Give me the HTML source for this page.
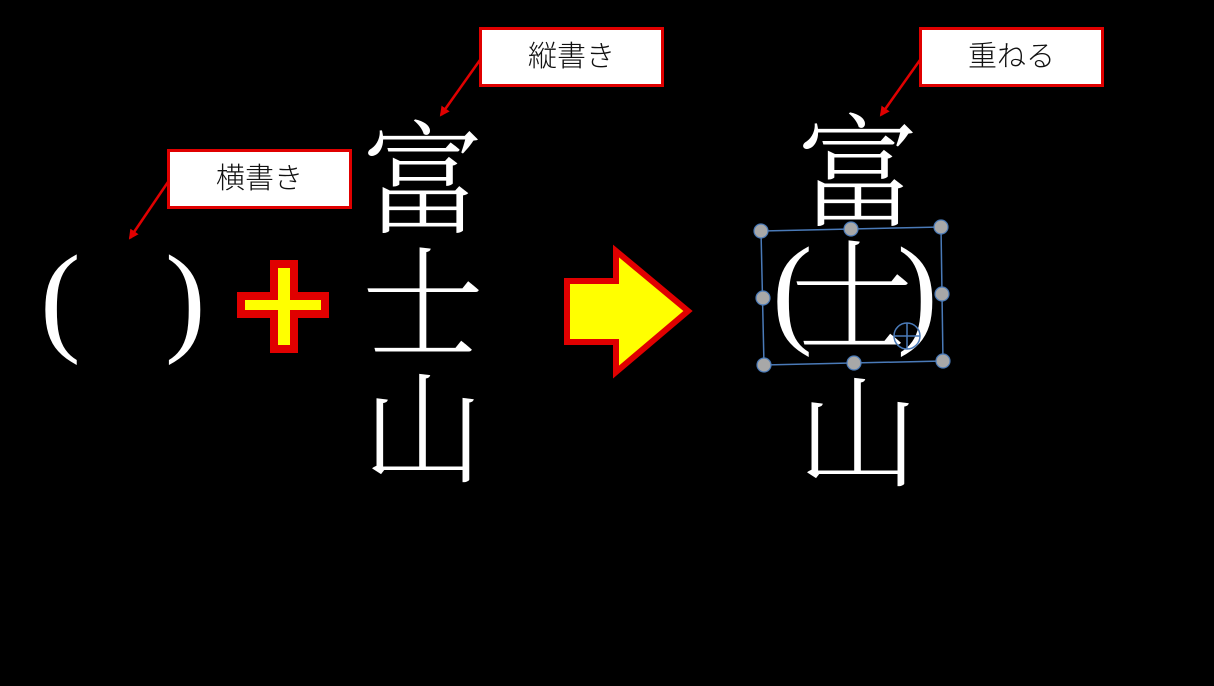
<!DOCTYPE html>
<html><head><meta charset="utf-8"><style>
html,body{margin:0;padding:0;background:#000;}
body{width:1214px;height:686px;position:relative;overflow:hidden;}
.k{position:absolute;color:#fff;font-family:"Noto Serif CJK SC","Noto Serif CJK JP",serif;font-weight:300;font-size:122px;line-height:122px;width:124px;text-align:center;}
.p{position:absolute;color:#fff;font-family:"Liberation Serif",serif;font-size:122px;line-height:122px;}
.lb{position:absolute;background:#fff;border:3px solid #e00000;box-sizing:border-box;width:185px;height:60px;font-family:"Liberation Sans","Noto Sans CJK JP",sans-serif;font-size:29px;line-height:54px;text-align:center;color:#111;font-weight:300;}
</style></head><body>
<div class="p" style="left:40px;top:238px;">(</div>
<div class="p" style="left:165px;top:238px;">)</div>
<div class="k" style="left:361px;top:111px;">富</div>
<div class="k" style="left:361px;top:235px;">士</div>
<div class="k" style="left:361px;top:360px;">山</div>

<div class="k" style="left:796px;top:104px;">富</div>
<div class="k" style="left:790px;top:228px;">士</div>
<div class="k" style="left:796px;top:364px;">山</div>
<div class="p" style="left:772px;top:230px;">(</div>
<div class="p" style="left:897px;top:230px;">)</div>

<svg width="1214" height="686" style="position:absolute;left:0;top:0">
<defs><marker id="a" markerWidth="10" markerHeight="10" refX="8" refY="5" orient="auto" markerUnits="userSpaceOnUse" viewBox="0 0 10 10"><path d="M0,0 L10,5 L0,10 z" fill="#e00000"/></marker></defs>
<polygon points="274,264 294,264 294,296 325,296 325,314 294,314 294,349 274,349 274,314 241,314 241,296 274,296" fill="#ff0" stroke="#e00000" stroke-width="8" stroke-linejoin="miter"/>
<polygon points="567,281 616,281 616,251 688,311 616,372 616,342 567,342" fill="#ff0" stroke="#e00000" stroke-width="6"/>
<line x1="168" y1="182" x2="130" y2="238" stroke="#e00000" stroke-width="2.5" marker-end="url(#a)"/>
<line x1="480" y1="60" x2="441" y2="115" stroke="#e00000" stroke-width="2.5" marker-end="url(#a)"/>
<line x1="920" y1="60" x2="881" y2="115" stroke="#e00000" stroke-width="2.5" marker-end="url(#a)"/>
<polygon points="761,231 941,227 943,361 764,365" fill="none" stroke="#4a7ab8" stroke-width="1.5"/>
<circle cx="907" cy="336" r="13" fill="none" stroke="#4a7ab8" stroke-width="1.5"/>
<line x1="894" y1="336" x2="920" y2="336" stroke="#4a7ab8" stroke-width="1.5"/>
<line x1="907" y1="323" x2="907" y2="349" stroke="#4a7ab8" stroke-width="1.5"/>
<g fill="#a8a8a8" stroke="#4a7ab8" stroke-width="1.2">
<circle cx="761" cy="231" r="7"/><circle cx="851" cy="229" r="7"/><circle cx="941" cy="227" r="7"/>
<circle cx="763" cy="298" r="7"/><circle cx="942" cy="294" r="7"/>
<circle cx="764" cy="365" r="7"/><circle cx="854" cy="363" r="7"/><circle cx="943" cy="361" r="7"/>
</g>
</svg>
<div class="lb" style="left:167px;top:149px;">横書き</div>
<div class="lb" style="left:479px;top:27px;">縦書き</div>
<div class="lb" style="left:919px;top:27px;">重ねる</div>
</body></html>
